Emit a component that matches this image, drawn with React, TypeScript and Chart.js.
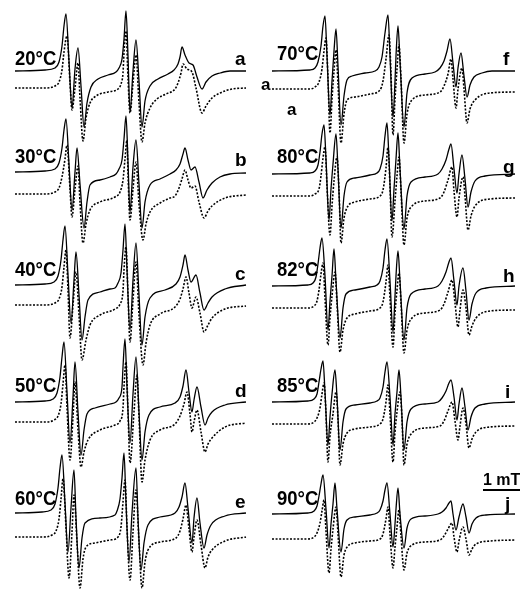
import React, { useEffect, useRef } from "react";
import { Chart, registerables } from "chart.js";

Chart.register(...registerables);

type Pt = [number, number];

// Field axis (arbitrary field units, 40 units = 1 mT), intensity relative to baseline (a.u.)
const FIELD_MIN = 0;
const FIELD_MAX = 260;

// ---------- Left column: experimental (EXP) and simulated (SIM) spectra ----------
const EXP_20C: Pt[] = [[15,0],[45,1],[55,3],[59,9],[62,25],[64,45],[66,57],[69,10],[72,-37],[75,2],[78,23],[81,-15],[84,-56],[87,-32],[91,-16],[98,-8],[108,-4],[116,-1],[119,3],[122,12],[124,32],[126,60],[128,15],[130,-41],[133,0],[136,31],[139,-10],[142,-56],[145,-30],[150,-15],[158,-8],[168,-3],[174,1],[178,7],[180,14],[182,24],[185,16],[189,8],[193,6],[197,-6],[202,-18],[206,-11],[212,-5],[220,-2],[230,0],[246,0]];
const SIM_20C: Pt[] = [[15,0],[45,0],[55,2],[59,6],[62,18],[64,36],[67,52],[70,5],[72,-22],[75,0],[78,25],[80,-10],[83,-53],[86,-30],[90,-15],[96,-8],[108,-4],[118,-1],[121,4],[123,15],[124,35],[126,57],[128,10],[130,-25],[133,5],[136,33],[139,-15],[142,-54],[145,-35],[150,-20],[157,-11],[166,-6],[175,-1],[178,5],[181,15],[183,24],[187,19],[192,16],[196,0],[202,-25],[206,-18],[212,-10],[220,-5],[232,-1],[246,0]];

const EXP_30C: Pt[] = [[15,0],[45,1],[55,3],[59,9],[62,24],[64,42],[66,53],[69,8],[72,-38],[75,0],[77,24],[80,-12],[84,-56],[87,-30],[90,-13],[100,-8],[110,-5],[116,-2],[119,3],[122,12],[124,33],[126,56],[128,10],[130,-40],[133,5],[136,32],[139,-12],[142,-56],[145,-30],[150,-13],[160,-7],[170,-2],[176,2],[180,8],[183,18],[185,24],[188,12],[191,2],[195,5],[199,-10],[203,-26],[207,-18],[212,-11],[220,-5],[230,-2],[246,-1]];
const SIM_30C: Pt[] = [[15,0],[45,0],[55,2],[59,6],[62,17],[65,35],[67,49],[70,5],[72,-23],[75,5],[78,28],[80,-8],[83,-49],[86,-30],[90,-16],[100,-8],[115,-3],[120,2],[123,14],[125,35],[127,54],[128,20],[130,-26],[133,5],[136,32],[139,-10],[143,-46],[146,-30],[150,-18],[160,-9],[170,-4],[175,-2],[179,6],[182,15],[185,24],[188,14],[191,6],[195,8],[199,-8],[204,-24],[208,-17],[212,-12],[225,-4],[246,-1]];

const EXP_40C: Pt[] = [[15,0],[45,1],[54,3],[58,9],[61,25],[63,45],[65,59],[68,10],[71,-38],[74,5],[76,33],[79,-10],[82,-55],[85,-32],[88,-15],[100,-7],[110,-4],[115,-3],[118,2],[121,12],[123,35],[125,61],[127,15],[130,-45],[133,5],[136,42],[139,-10],[142,-60],[145,-32],[150,-13],[165,-5],[176,1],[180,8],[183,20],[185,30],[188,15],[191,3],[196,10],[200,-8],[204,-25],[208,-18],[212,-12],[225,-4],[246,0]];
const SIM_40C: Pt[] = [[15,0],[45,0],[55,2],[59,6],[62,18],[64,38],[66,55],[68,15],[70,-33],[73,0],[76,33],[79,-10],[82,-55],[86,-35],[90,-20],[100,-10],[115,-4],[120,1],[123,14],[124,35],[126,58],[128,10],[130,-37],[133,5],[136,43],[139,-10],[143,-60],[146,-38],[150,-20],[160,-9],[175,-2],[180,6],[183,16],[186,28],[189,12],[192,-3],[196,8],[200,-8],[204,-27],[208,-20],[212,-13],[225,-4],[246,-1]];

const EXP_50C: Pt[] = [[15,0],[45,1],[53,3],[57,9],[60,25],[62,45],[64,60],[67,10],[70,-41],[73,5],[75,40],[78,-10],[81,-53],[84,-28],[87,-12],[95,-6],[110,-2],[116,0],[119,4],[122,15],[123,35],[125,63],[127,15],[130,-41],[133,8],[136,45],[139,-10],[142,-58],[145,-30],[149,-13],[160,-5],[175,-1],[180,5],[183,16],[186,32],[189,10],[192,-10],[194,2],[197,15],[201,-5],[205,-23],[208,-16],[212,-10],[225,-3],[246,0]];
const SIM_50C: Pt[] = [[15,0],[45,0],[54,2],[58,6],[61,18],[63,38],[65,57],[67,15],[70,-38],[73,5],[75,40],[78,-8],[81,-45],[84,-30],[88,-18],[100,-8],[115,-3],[120,1],[123,14],[124,35],[126,60],[128,10],[130,-41],[134,10],[137,47],[139,5],[142,-60],[145,-38],[150,-18],[160,-8],[175,-2],[180,6],[184,18],[187,30],[190,8],[192,-10],[194,0],[197,12],[201,-10],[205,-30],[208,-22],[212,-16],[225,-5],[246,-1]];

const EXP_60C: Pt[] = [[15,0],[42,1],[51,3],[55,9],[58,25],[60,45],[62,58],[65,10],[68,-39],[71,5],[74,43],[76,-5],[79,-55],[82,-25],[85,-10],[100,-5],[115,-2],[117,2],[120,14],[122,35],[124,60],[126,10],[129,-49],[132,0],[136,45],[138,-5],[141,-57],[144,-30],[148,-12],[160,-4],[175,0],[179,6],[182,16],[185,30],[188,5],[192,-30],[194,-5],[197,15],[200,-10],[204,-35],[207,-22],[211,-12],[225,-3],[246,0]];
const SIM_60C: Pt[] = [[15,0],[42,0],[52,2],[56,6],[59,18],[61,38],[63,58],[66,10],[69,-41],[72,5],[74,42],[77,-5],[80,-51],[83,-22],[86,-10],[95,-6],[110,-3],[118,0],[121,10],[123,35],[125,57],[127,10],[130,-43],[133,5],[136,47],[139,-5],[142,-51],[145,-25],[148,-13],[160,-5],[176,-1],[180,6],[183,18],[186,32],[189,8],[192,-15],[194,0],[197,17],[201,-8],[205,-31],[208,-20],[212,-13],[225,-4],[246,0]];

// ---------- Right column ----------
const EXP_70C: Pt[] = [[12,0],[50,1],[55,3],[58,9],[61,25],[63,45],[65,55],[67,15],[70,-44],[72,-10],[74,20],[76,42],[78,5],[81,-54],[84,-25],[87,-9],[92,-5],[105,-2],[115,0],[119,4],[122,14],[125,38],[128,56],[130,15],[133,-46],[135,-10],[136,15],[138,45],[140,10],[144,-56],[147,-22],[152,-7],[165,-3],[175,-1],[180,3],[184,10],[187,20],[190,32],[193,8],[196,-16],[198,3],[201,18],[204,-5],[207,-26],[210,-14],[214,-6],[222,-2],[232,0],[255,0]];
const SIM_70C: Pt[] = [[12,0],[50,0],[55,2],[59,7],[62,20],[64,38],[66,51],[68,10],[70,-44],[72,-10],[74,18],[76,39],[78,5],[81,-54],[84,-25],[87,-11],[95,-8],[110,-5],[120,-1],[123,8],[126,30],[129,54],[131,15],[133,-46],[135,-10],[137,20],[139,44],[141,10],[144,-54],[147,-25],[152,-11],[165,-6],[180,-3],[184,3],[188,15],[191,30],[193,10],[196,-19],[198,0],[202,21],[204,0],[207,-34],[210,-20],[215,-11],[230,-4],[255,-3]];

const EXP_80C: Pt[] = [[12,0],[50,1],[55,3],[58,9],[60,22],[62,40],[64,49],[66,15],[69,-46],[71,-15],[73,10],[76,40],[78,5],[81,-54],[84,-22],[87,-8],[95,-4],[110,-1],[117,1],[120,5],[123,18],[125,38],[127,51],[129,15],[132,-47],[134,-15],[136,15],[138,41],[140,5],[144,-55],[147,-22],[151,-8],[165,-3],[178,0],[182,5],[186,14],[189,25],[191,30],[194,5],[197,-19],[199,0],[202,19],[205,-5],[208,-33],[211,-18],[215,-7],[225,-2],[255,0]];
const SIM_80C: Pt[] = [[12,0],[50,0],[55,2],[59,7],[61,20],[63,38],[65,49],[67,10],[70,-39],[72,-10],[74,15],[77,39],[79,5],[81,-47],[84,-22],[88,-10],[95,-6],[110,-3],[120,0],[123,6],[126,28],[128,49],[130,10],[132,-41],[135,-5],[137,20],[139,39],[141,5],[144,-49],[147,-22],[152,-10],[165,-5],[180,-2],[184,4],[188,16],[192,29],[194,5],[197,-21],[199,-2],[203,19],[205,0],[208,-34],[211,-20],[215,-10],[230,-3],[255,-2]];

const EXP_82C: Pt[] = [[12,0],[48,1],[53,3],[56,9],[58,22],[60,38],[62,48],[65,10],[68,-44],[70,-15],[72,10],[74,37],[76,5],[80,-52],[83,-22],[86,-8],[95,-4],[110,-1],[117,1],[120,5],[123,18],[125,36],[127,47],[130,5],[133,-46],[135,-10],[136,10],[138,35],[140,5],[144,-54],[147,-22],[151,-8],[165,-3],[178,0],[182,5],[186,14],[189,24],[191,28],[194,5],[197,-19],[199,0],[203,18],[206,-5],[209,-34],[212,-18],[216,-7],[226,-2],[255,0]];
const SIM_82C: Pt[] = [[12,0],[48,0],[54,2],[57,7],[59,18],[61,34],[63,45],[65,10],[68,-37],[70,-10],[72,12],[75,36],[77,5],[80,-44],[83,-22],[87,-10],[95,-6],[110,-3],[120,0],[123,6],[126,26],[128,43],[130,10],[133,-39],[135,-5],[137,18],[139,35],[141,5],[144,-45],[147,-22],[152,-10],[165,-5],[180,-2],[184,4],[188,16],[192,28],[195,5],[198,-19],[200,-2],[203,18],[206,0],[209,-27],[212,-18],[216,-10],[230,-3],[255,-2]];

const EXP_85C: Pt[] = [[12,0],[48,1],[54,3],[57,8],[59,20],[61,33],[63,41],[65,10],[68,-43],[70,-15],[72,8],[75,32],[77,5],[80,-48],[83,-20],[86,-7],[95,-3],[110,-1],[117,1],[120,4],[123,15],[125,30],[127,40],[130,5],[133,-43],[135,-12],[137,10],[139,32],[141,5],[144,-48],[147,-20],[151,-7],[165,-2],[178,0],[182,4],[186,11],[189,19],[191,22],[194,5],[197,-18],[199,-2],[202,14],[205,-5],[208,-28],[211,-15],[215,-6],[225,-2],[255,0]];
const SIM_85C: Pt[] = [[12,0],[48,0],[54,2],[57,6],[60,16],[62,30],[64,41],[66,10],[68,-38],[70,-12],[73,10],[76,32],[78,5],[80,-41],[83,-20],[87,-9],[95,-5],[110,-3],[120,0],[123,5],[126,22],[128,39],[130,10],[133,-38],[135,-8],[137,12],[140,32],[142,5],[144,-41],[147,-20],[152,-9],[165,-4],[180,-2],[184,3],[188,13],[192,22],[195,3],[198,-16],[200,-2],[203,16],[206,0],[209,-24],[212,-15],[216,-8],[230,-3],[255,-2]];

const EXP_90C: Pt[] = [[12,0],[48,1],[54,3],[57,8],[59,18],[61,30],[63,39],[66,5],[69,-34],[71,-10],[73,10],[75,31],[77,5],[81,-38],[84,-15],[87,-6],[95,-3],[110,-1],[117,1],[120,4],[123,13],[125,24],[127,31],[130,0],[133,-33],[135,-10],[136,5],[138,26],[140,0],[144,-34],[147,-14],[151,-5],[165,-2],[178,0],[182,2],[186,6],[189,11],[191,13],[193,0],[196,-16],[199,-3],[203,10],[206,-3],[209,-19],[212,-10],[216,-4],[226,-1],[255,0]];
const SIM_90C: Pt[] = [[12,0],[48,0],[54,2],[57,6],[60,16],[62,28],[64,39],[66,8],[69,-34],[71,-10],[73,10],[76,32],[78,5],[81,-38],[84,-16],[88,-7],[95,-4],[110,-2],[120,0],[123,5],[126,20],[128,32],[130,5],[133,-29],[135,-8],[137,12],[139,29],[141,3],[144,-31],[147,-14],[152,-6],[165,-3],[180,-1],[184,3],[188,10],[192,16],[194,2],[197,-13],[199,-2],[203,12],[206,0],[209,-16],[212,-10],[216,-5],[230,-2],[255,-1]];

// Labels
const LEFT_TEMPS = ["20°C", "30°C", "40°C", "50°C", "60°C"];
const RIGHT_TEMPS = ["70°C", "80°C", "82°C", "85°C", "90°C"];
const LEFT_LETTERS = ["a", "b", "c", "d", "e"];
const RIGHT_LETTERS = ["f", "g", "h", "i", "j"];
const SCALE_LABEL = "1 mT";

const LEFT_EXP = [EXP_20C, EXP_30C, EXP_40C, EXP_50C, EXP_60C];
const LEFT_SIM = [SIM_20C, SIM_30C, SIM_40C, SIM_50C, SIM_60C];
const RIGHT_EXP = [EXP_70C, EXP_80C, EXP_82C, EXP_85C, EXP_90C];
const RIGHT_SIM = [SIM_70C, SIM_80C, SIM_82C, SIM_85C, SIM_90C];

// ---------- Layout (vertical stacking offsets in canvas px) ----------
const W = 520;
const H = 591;
const LEFT_EXP_BASE = [71, 172, 285, 402, 513];
const LEFT_SIM_BASE = [88, 194, 305, 422, 537];
const RIGHT_EXP_BASE = [71, 174, 286, 402, 514];
const RIGHT_SIM_BASE = [89, 196, 308, 424, 539];
const LEFT_TEMP_BASELINE = [65, 163, 276, 392, 505];
const RIGHT_TEMP_BASELINE = [60, 163, 276, 392, 505];
const LEFT_LETTER_BASELINE = [65, 166, 280, 397, 508];
const RIGHT_LETTER_BASELINE = [65, 173, 282, 398, 510];

function buildDatasets(exp: Pt[][], sim: Pt[][], expBase: number[], simBase: number[]) {
  const ds: any[] = [];
  exp.forEach((curve, i) => {
    ds.push({
      data: curve.map(([x, v]) => ({ x, y: expBase[i] - v })),
      borderColor: "#000",
      borderWidth: 1.3,
      pointRadius: 0,
      fill: false,
      cubicInterpolationMode: "monotone",
      clip: false,
    });
    ds.push({
      data: sim[i].map(([x, v]) => ({ x, y: simBase[i] - v })),
      borderColor: "#000",
      borderWidth: 1.6,
      borderDash: [2, 1.6],
      pointRadius: 0,
      fill: false,
      cubicInterpolationMode: "monotone",
      clip: false,
    });
  });
  return ds;
}

function Column({ exp, sim, expBase, simBase, left }: any) {
  const ref = useRef<HTMLCanvasElement>(null);
  useEffect(() => {
    if (!ref.current) return;
    const chart = new Chart(ref.current, {
      type: "line",
      data: { datasets: buildDatasets(exp, sim, expBase, simBase) },
      options: {
        animation: false,
        responsive: false,
        devicePixelRatio: 1,
        layout: { padding: 0 },
        plugins: { legend: { display: false }, tooltip: { enabled: false }, title: { display: false } },
        scales: {
          x: { type: "linear", min: FIELD_MIN, max: FIELD_MAX, display: false },
          y: { type: "linear", min: 0, max: H, reverse: true, display: false },
        },
        events: [],
      },
    });
    return () => chart.destroy();
  }, []);
  return (
    <canvas
      ref={ref}
      width={W / 2}
      height={H}
      style={{ position: "absolute", left, top: 0, width: W / 2, height: H }}
    />
  );
}

const FONT = "'Liberation Sans', Arial, Helvetica, sans-serif";

function Txt({ text, x, baseline, size, scaleX = 1 }: any) {
  return (
    <div
      style={{
        position: "absolute",
        left: x,
        top: baseline - size * 0.85,
        fontFamily: FONT,
        fontWeight: "bold",
        fontSize: size,
        lineHeight: 1,
        whiteSpace: "nowrap",
        transform: `scaleX(${scaleX})`,
        transformOrigin: "left top",
        color: "#000",
      }}
    >
      {text}
    </div>
  );
}

export default function App() {
  return (
    <div
      style={{
        position: "fixed",
        left: 0,
        top: 0,
        width: W,
        height: H,
        background: "#fff",
        overflow: "hidden",
      }}
    >
      <Column exp={LEFT_EXP} sim={LEFT_SIM} expBase={LEFT_EXP_BASE} simBase={LEFT_SIM_BASE} left={0} />
      <Column exp={RIGHT_EXP} sim={RIGHT_SIM} expBase={RIGHT_EXP_BASE} simBase={RIGHT_SIM_BASE} left={W / 2} />
      {LEFT_TEMPS.map((t, i) => (
        <Txt key={t} text={t} x={15} baseline={LEFT_TEMP_BASELINE[i]} size={21} scaleX={0.88} />
      ))}
      {RIGHT_TEMPS.map((t, i) => (
        <Txt key={t} text={t} x={277} baseline={RIGHT_TEMP_BASELINE[i]} size={21} scaleX={0.88} />
      ))}
      {LEFT_LETTERS.map((t, i) => (
        <Txt key={t} text={t} x={235} baseline={LEFT_LETTER_BASELINE[i]} size={19} />
      ))}
      {RIGHT_LETTERS.map((t, i) => (
        <Txt key={t} text={t} x={t === "i" || t === "j" ? 505 : 503} baseline={RIGHT_LETTER_BASELINE[i]} size={19} />
      ))}
      <Txt text="a" x={261} baseline={90} size={17} />
      <Txt text="a" x={287} baseline={115} size={17} />
      <Txt text={SCALE_LABEL} x={483} baseline={486} size={16} />
      <div style={{ position: "absolute", left: 483, top: 489, width: 40, height: 2, background: "#000" }} />
    </div>
  );
}
